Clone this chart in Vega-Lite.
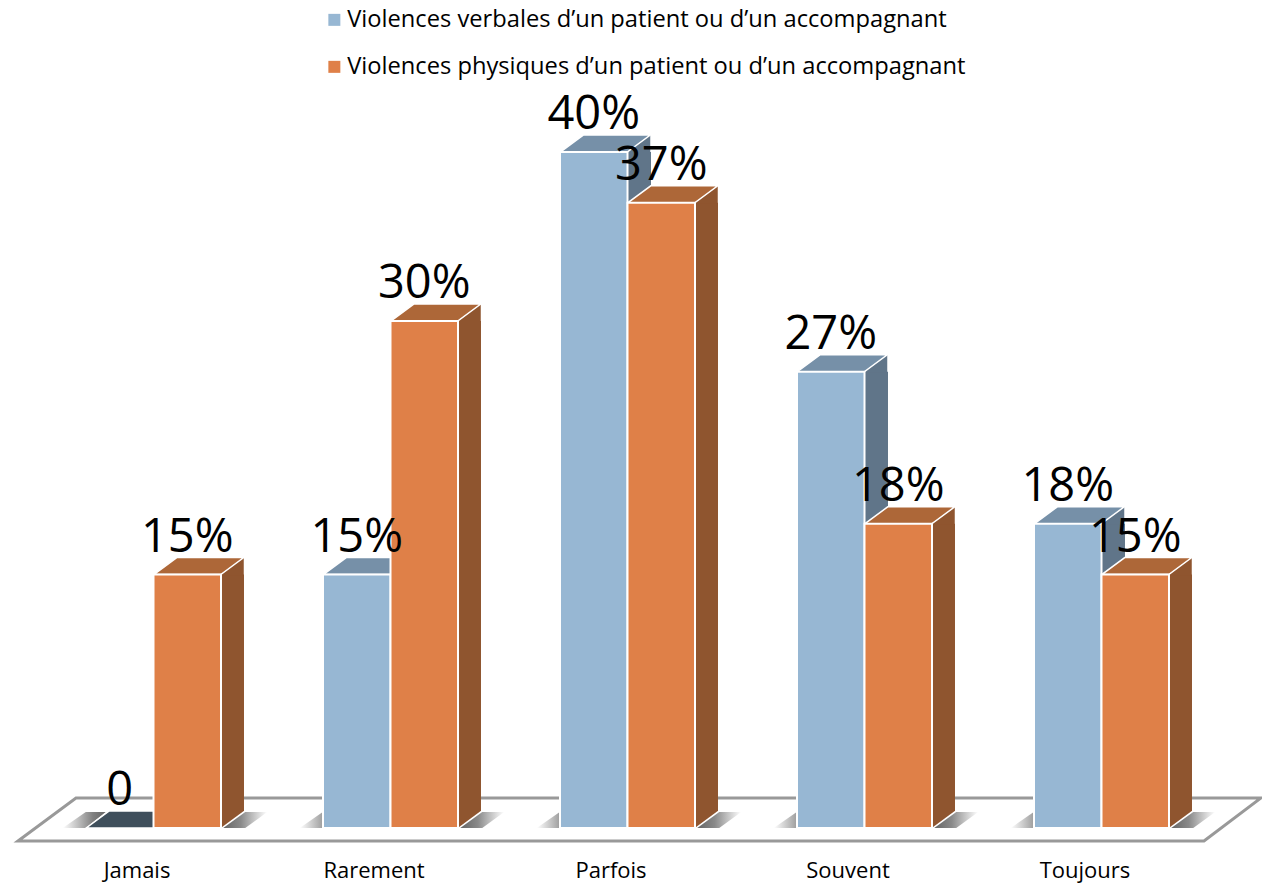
{
"$schema":"https://vega.github.io/schema/vega-lite/v6.json",
"width":1185,"height":828,
"autosize":{"type":"none"},
"padding":{"left":35.5,"top":0,"right":41.5,"bottom":55},
"background":"white",
"config":{"view":{"stroke":null},"font":"Open Sans"},
"datasets":{"main":[
{"category":"Jamais","serie":"Violences verbales d’un patient ou d’un accompagnant","value":0,"label":"0"},
{"category":"Jamais","serie":"Violences physiques d’un patient ou d’un accompagnant","value":15,"label":"15%"},
{"category":"Rarement","serie":"Violences verbales d’un patient ou d’un accompagnant","value":15,"label":"15%"},
{"category":"Rarement","serie":"Violences physiques d’un patient ou d’un accompagnant","value":30,"label":"30%"},
{"category":"Parfois","serie":"Violences verbales d’un patient ou d’un accompagnant","value":40,"label":"40%"},
{"category":"Parfois","serie":"Violences physiques d’un patient ou d’un accompagnant","value":37,"label":"37%"},
{"category":"Souvent","serie":"Violences verbales d’un patient ou d’un accompagnant","value":27,"label":"27%"},
{"category":"Souvent","serie":"Violences physiques d’un patient ou d’un accompagnant","value":18,"label":"18%"},
{"category":"Toujours","serie":"Violences verbales d’un patient ou d’un accompagnant","value":18,"label":"18%"},
{"category":"Toujours","serie":"Violences physiques d’un patient ou d’un accompagnant","value":15,"label":"15%"}
]},
"data":{"name":"main"},
"encoding":{
"x":{"field":"category","type":"nominal","sort":["Jamais","Rarement","Parfois","Souvent","Toujours"],
"scale":{"paddingInner":0,"paddingOuter":0},
"axis":{"title":null,"ticks":false,"domain":false,"grid":false,"labelAngle":0,"labelFontSize":22,"labelColor":"#000000","labelOffset":-17,"labelPadding":32,"labelFont":"Open Sans"}},
"xOffset":{"field":"serie","type":"nominal","sort":["Violences verbales d’un patient ou d’un accompagnant","Violences physiques d’un patient ou d’un accompagnant"],"scale":{"range":[50.5,185.5],"paddingInner":0,"paddingOuter":0}},
"y":{"field":"value","type":"quantitative","scale":{"domain":[0,49],"nice":false,"zero":true},"axis":null}
},
"layer":[
{"data":{"values":[{"category":"Parfois","value":0}]},
"mark":{"type":"point","filled":true,"fill":"white","stroke":"#999999","strokeWidth":3,"opacity":1,"size":40000,"shape":"M-6.10,0.13L-5.52,-0.30L6.33,-0.30L5.76,0.13Z"},
"encoding":{"xOffset":null,"x":{"field":"category","type":"nominal"},"y":{"field":"value","type":"quantitative"}}},
{"transform":[{"filter":"indexof(datum.serie,'verbales')>=0"}],
"mark":{"type":"point","filled":true,"opacity":1,"size":40000,"strokeWidth":0,"shape":"M-0.57,0L-0.34,-0.16L-0.14,-0.16L-0.34,0Z",
"fill":{"gradient":"linear","x1":0,"y1":0,"x2":1,"y2":0,"stops":[{"offset":0,"color":"#ffffff"},{"offset":0.7,"color":"#808080"},{"offset":1,"color":"#666666"}]}},
"encoding":{"y":{"datum":0}}},
{"transform":[{"filter":"indexof(datum.serie,'physiques')>=0"}],
"mark":{"type":"point","filled":true,"opacity":1,"size":40000,"strokeWidth":0,"shape":"M0.36,0L0.58,-0.16L0.80,-0.16L0.58,0Z",
"fill":{"gradient":"linear","x1":0,"y1":0,"x2":1,"y2":0,"stops":[{"offset":0,"color":"#666666"},{"offset":0.4,"color":"#8a8a8a"},{"offset":1,"color":"#ffffff"}]}},
"encoding":{"y":{"datum":0}}},
{"transform":[{"filter":"datum.value>0 && indexof(datum.serie,'verbales')>=0"}],
"mark":{"type":"rule","strokeWidth":23,"y2Offset":-17,"strokeCap":"butt","opacity":1,"color":"#607589"},
"encoding":{"xOffset":null,"x":{"field":"category","type":"nominal","bandPosition":0.5485},"y2":{"datum":0}}},
{"transform":[{"filter":"datum.value>0 && indexof(datum.serie,'physiques')>=0"}],
"mark":{"type":"rule","strokeWidth":23,"y2Offset":-17,"strokeCap":"butt","opacity":1,"color":"#8f552f"},
"encoding":{"xOffset":null,"x":{"field":"category","type":"nominal","bandPosition":0.8312},"y2":{"datum":0}}},
{"transform":[{"filter":"datum.value>0 && indexof(datum.serie,'verbales')>=0"}],
"mark":{"type":"point","filled":true,"opacity":1,"size":40000,"strokeWidth":0,"color":"#607589","shape":"M0.335,0L0.565,-0.17L0.565,0.01L0.335,0.01Z"}},
{"transform":[{"filter":"datum.value>0 && indexof(datum.serie,'physiques')>=0"}],
"mark":{"type":"point","filled":true,"opacity":1,"size":40000,"strokeWidth":0,"color":"#8f552f","shape":"M0.335,0L0.565,-0.17L0.565,0.01L0.335,0.01Z"}},
{"transform":[{"filter":"datum.value>0 && indexof(datum.serie,'verbales')>=0"}],
"mark":{"type":"point","filled":true,"opacity":1,"size":40000,"strokeWidth":0,"color":"#607589","shape":"M0.335,0L0.565,-0.17L0.565,-0.18L0.335,-0.18Z"},
"encoding":{"y":{"datum":0}}},
{"transform":[{"filter":"datum.value>0 && indexof(datum.serie,'physiques')>=0"}],
"mark":{"type":"point","filled":true,"opacity":1,"size":40000,"strokeWidth":0,"color":"#8f552f","shape":"M0.335,0L0.565,-0.17L0.565,-0.18L0.335,-0.18Z"},
"encoding":{"y":{"datum":0}}},
{"mark":{"type":"point","filled":true,"opacity":1,"size":40000,"stroke":"white","strokeWidth":1.5,"shape":"M-0.335,0L0.335,0L0.565,-0.17L-0.105,-0.17Z"},
"encoding":{"color":{"condition":{"test":"datum.value==0","value":"#3f4f5c"},"field":"serie","type":"nominal","legend":null,"scale":{"domain":["Violences verbales d’un patient ou d’un accompagnant","Violences physiques d’un patient ou d’un accompagnant"],"range":["#7690a8","#ad6738"]}}}},
{"transform":[{"filter":"datum.value>0"}],
"mark":{"type":"bar","stroke":"white","strokeWidth":2},
"encoding":{"y2":{"datum":0},"color":{"field":"serie","type":"nominal",
"scale":{"domain":["Violences verbales d’un patient ou d’un accompagnant","Violences physiques d’un patient ou d’un accompagnant"],"range":["#97b7d3","#df8048"]},
"legend":{"title":null,"orient":"none","legendX":287,"legendY":8,"symbolType":"square","symbolSize":144,"symbolStrokeWidth":0,"labelFontSize":23.7,"labelFont":"Open Sans","labelColor":"#000000","labelLimit":800,"rowPadding":22,"labelOffset":1}}}},
{"mark":{"type":"text","fontSize":47,"font":"Open Sans","color":"#000000","dy":-23,"baseline":"alphabetic","align":"center"},
"encoding":{"text":{"field":"label","type":"nominal"}}}
],
"resolve":{"scale":{"color":"independent"}}
}
